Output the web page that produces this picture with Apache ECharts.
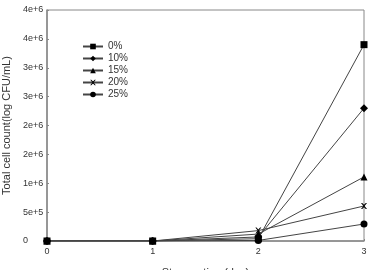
<!DOCTYPE html>
<html>
<head>
<meta charset="UTF-8">
<script src="https://cdn.jsdelivr.net/npm/echarts@6/dist/echarts.min.js"></script>
<style>
  html, body { margin: 0; padding: 0; background: #fff; }
  #chart { width: 371px; height: 270px; }
</style>
</head>
<body>
<div id="chart"></div>
<script>
// storage days
var days = [0, 1, 2, 3];
// series names
var names = ['0%', '10%', '15%', '20%', '25%'];
var symbols = ['rect', 'diamond', 'triangle',
  'path://M0,0 L2,0 L5,3 L8,0 L10,0 L6,5 L10,10 L8,10 L5,7 L2,10 L0,10 L4,5 Z', 'circle'];
var sizes = [7, 8, 7, 6, 7];
// values per series (CFU/mL)
var v0 = [0, 0, 40000, 3400000];
var v10 = [0, 0, 70000, 2300000];
var v15 = [0, 0, 120000, 1110000];
var v20 = [0, 0, 180000, 606000];
var v25 = [0, 0, 10000, 294000];
var allValues = [v0, v10, v15, v20, v25];

var chart = echarts.init(document.getElementById('chart'));

var series = names.map(function (n, i) {
  return {
    name: n,
    type: 'line',
    data: days.map(function (d, j) { return [d, allValues[i][j]]; }),
    symbol: symbols[i],
    symbolSize: sizes[i],
    lineStyle: { color: '#444', width: 1 },
    itemStyle: { color: '#000' },
    animation: false
  };
});

chart.setOption({
  animation: false,
  textStyle: { fontFamily: 'Liberation Sans, Arial, sans-serif' },
  legend: {
    orient: 'vertical',
    left: 82,
    top: 41,
    padding: 0,
    itemWidth: 20,
    itemHeight: 7,
    itemGap: 1,
    textStyle: { fontSize: 10, color: '#333', lineHeight: 11 },
    data: names
  },
  grid: {
    left: 47, right: 7, top: 10, bottom: 29,
    outerBoundsMode: 'none',
    containLabel: false,
    show: true, borderColor: '#888', borderWidth: 1
  },
  xAxis: {
    type: 'value',
    min: 0, max: 3, interval: 1,
    name: 'Storage time(day)',
    nameLocation: 'middle',
    nameGap: 26,
    nameTextStyle: { fontSize: 11, color: '#333' },
    axisLine: { lineStyle: { color: '#888', width: 1.5 } },
    axisTick: { show: true, inside: true, length: 2, lineStyle: { color: '#888' } },
    axisLabel: { fontSize: 9, color: '#333', margin: 6 },
    splitLine: { show: false }
  },
  yAxis: {
    type: 'value',
    min: 0, max: 4000000, interval: 500000,
    name: 'Total cell count(log CFU/mL)',
    nameLocation: 'middle',
    nameGap: 34,
    nameTextStyle: { fontSize: 11, color: '#333' },
    axisLine: { show: true, lineStyle: { color: '#888', width: 1.5 } },
    axisTick: { show: true, inside: true, length: 2, lineStyle: { color: '#888' } },
    axisLabel: {
      fontSize: 9, color: '#333', margin: 24, align: 'left',
      formatter: function (v) { return v === 0 ? '0' : v.toExponential(0); }
    },
    splitLine: { show: false }
  },
  series: series
});
</script>
</body>
</html>
